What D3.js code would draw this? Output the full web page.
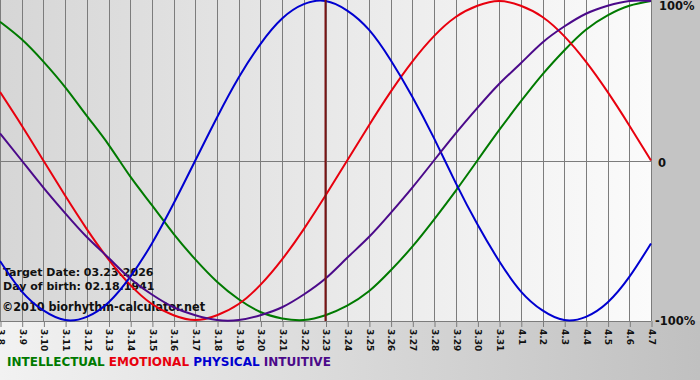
<!DOCTYPE html>
<html><head><meta charset="utf-8">
<script src="https://cdn.jsdelivr.net/npm/d3@7"></script>
<style>
html,body{margin:0;padding:0;overflow:hidden;}
svg{display:block;}
text{font-family:"DejaVu Sans",Verdana,sans-serif;font-weight:bold;}
</style></head>
<body>
<svg id="chart" width="700" height="380"></svg>
<script>
const days = ["3.8","3.9","3.10","3.11","3.12","3.13","3.14","3.15","3.16","3.17","3.18","3.19","3.20","3.21","3.22","3.23","3.24","3.25","3.26","3.27","3.28","3.29","3.30","3.31","4.1","4.2","4.3","4.4","4.5","4.6","4.7"];
const physical = [-0.63,-0.82,-0.94,-1.00,-0.98,-0.89,-0.73,-0.52,-0.27,0.00,0.27,0.52,0.73,0.89,0.98,1.00,0.94,0.82,0.63,0.40,0.14,-0.14,-0.40,-0.63,-0.82,-0.94,-1.00,-0.98,-0.89,-0.73,-0.52];
const emotional = [0.43,0.22,0.00,-0.22,-0.43,-0.62,-0.78,-0.90,-0.97,-1.00,-0.97,-0.90,-0.78,-0.62,-0.43,-0.22,0.00,0.22,0.43,0.62,0.78,0.90,0.97,1.00,0.97,0.90,0.78,0.62,0.43,0.22,0.00];
const intellectual = [0.87,0.76,0.62,0.46,0.28,0.10,-0.10,-0.28,-0.46,-0.62,-0.76,-0.87,-0.95,-0.99,-1.00,-0.97,-0.91,-0.82,-0.69,-0.54,-0.37,-0.19,0.00,0.19,0.37,0.54,0.69,0.82,0.91,0.97,1.00];
const intuitive = [0.17,0.00,-0.17,-0.33,-0.48,-0.61,-0.74,-0.84,-0.92,-0.97,-1.00,-1.00,-0.97,-0.92,-0.84,-0.74,-0.61,-0.48,-0.33,-0.17,0.00,0.17,0.33,0.48,0.61,0.74,0.84,0.92,0.97,1.00,1.00];
const targetDay = "3.23";
const yTicks = [1, 0, -1];
const yTickLabels = ["100%", "0", "-100%"];
const legendNames = ["INTELLECTUAL","EMOTIONAL","PHYSICAL","INTUITIVE"];
const infoLines = ["Target Date: 03.23.2026","Day of birth: 02.18.1941"];
const copyright = "\u00a92010 biorhythm-calculator.net";

const series = [
  {name:"INTELLECTUAL", values:intellectual, color:"#007a00"},
  {name:"EMOTIONAL", values:emotional, color:"#e8000e"},
  {name:"PHYSICAL", values:physical, color:"#0000d0"},
  {name:"INTUITIVE", values:intuitive, color:"#4b0a8a"}
];

const svg = d3.select("#chart");
const W = 700, H = 380;
const plot = {left:0, right:651, top:0, bottom:321};

const defs = svg.append("defs");
const bg = defs.append("linearGradient").attr("id","bg").attr("x1","0").attr("y1","0").attr("x2","1").attr("y2","0");
bg.append("stop").attr("offset","0").attr("stop-color","#f2f2f2");
bg.append("stop").attr("offset","1").attr("stop-color","#c0c0c0");
const pg = defs.append("linearGradient").attr("id","pg").attr("x1","0").attr("y1","0").attr("x2","1").attr("y2","0");
pg.append("stop").attr("offset","0").attr("stop-color","#d6d6d6");
pg.append("stop").attr("offset","1").attr("stop-color","#fbfbfb");

svg.append("rect").attr("width",W).attr("height",H).attr("fill","url(#bg)");
svg.append("rect").attr("x",plot.right).attr("y",0).attr("width",W-plot.right).attr("height",plot.bottom).attr("fill","#c4c4c4");

const x = d3.scalePoint().domain(days).range([plot.left, plot.right]);
const y = d3.scaleLinear().domain([-1,1]).range([320, 1]);

svg.append("rect").attr("x",plot.left).attr("y",plot.top).attr("width",plot.right-plot.left).attr("height",plot.bottom-plot.top).attr("fill","url(#pg)");

// vertical grid
svg.append("g").selectAll("line").data(days).join("line")
  .attr("x1",d=>Math.round(x(d))+0.5).attr("x2",d=>Math.round(x(d))+0.5)
  .attr("y1",plot.top).attr("y2",plot.bottom)
  .attr("stroke","#7c7c7c").attr("stroke-width",1);

// zero line
svg.append("line").attr("x1",plot.left).attr("x2",plot.right)
  .attr("y1",Math.round(y(0))+0.5).attr("y2",Math.round(y(0))+0.5)
  .attr("stroke","#7c7c7c").attr("stroke-width",1);

// bottom axis
const xAxis = d3.axisBottom(x).tickSize(6).tickPadding(0);
const ax = svg.append("g").attr("transform",`translate(0,${plot.bottom})`).call(xAxis);
ax.select(".domain").attr("stroke","#7c7c7c").attr("d",`M${plot.left},0.5H${plot.right}`);
ax.selectAll(".tick line").attr("stroke","#7c7c7c").attr("transform","translate(0.5,0)");
ax.selectAll(".tick text")
  .attr("transform","translate(0.5,8) rotate(90)")
  .attr("x",0).attr("y",0).attr("dy","0.35em")
  .attr("text-anchor","start")
  .attr("font-size","9px").attr("fill","#111")
  .style("font-family","'DejaVu Sans',sans-serif").style("font-weight","bold");

// right labels
svg.append("g").selectAll("text").data(yTicks).join("text")
  .attr("x",(d,i)=> i===1 ? 658 : (i===0 ? 659 : 655))
  .attr("y",d=>y(d)+ (d===1?5:(d===0?2:1)))
  .attr("dy","0.35em")
  .attr("font-size","11.5px").attr("fill","#111")
  .text((d,i)=>yTickLabels[i]);

// info text
svg.append("g").selectAll("text").data(infoLines).join("text")
  .attr("x",3).attr("y",(d,i)=>276+i*14)
  .attr("font-size","11px").attr("fill","#111")
  .text(d=>d);
svg.append("text").attr("x",2).attr("y",311)
  .style("font-family","'DejaVu Sans Condensed','DejaVu Sans',sans-serif")
  .attr("font-size","12.5px").attr("fill","#111").text(copyright);

// curves
const line = d3.line().x((d,i)=>x(days[i])).y(d=>y(d)).curve(d3.curveNatural);
svg.append("g").selectAll("path").data(series).join("path")
  .attr("d",s=>line(s.values))
  .attr("fill","none").attr("stroke",s=>s.color).attr("stroke-width",2);

// target line
svg.append("line").attr("x1",x(targetDay)).attr("x2",x(targetDay))
  .attr("y1",plot.top).attr("y2",plot.bottom)
  .attr("stroke","#7a1414").attr("stroke-width",2);

// legend
const leg = svg.append("text").attr("x",7).attr("y",366).attr("font-size","12px");
series.forEach((s,i)=>{
  leg.append("tspan").attr("fill",s.color).text((i?" ":"")+legendNames[i]);
});
</script>
</body></html>
